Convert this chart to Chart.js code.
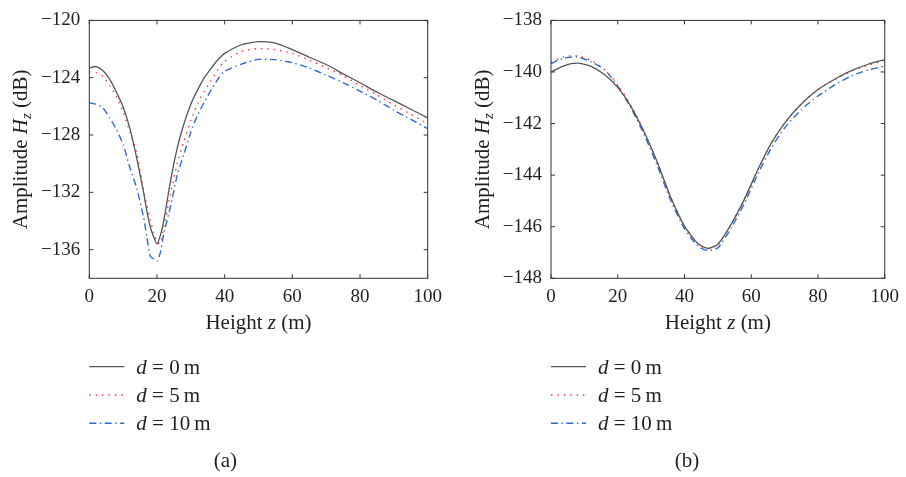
<!DOCTYPE html>
<html>
<head>
<meta charset="utf-8">
<script src="https://cdn.jsdelivr.net/npm/chart.js@4/dist/chart.umd.min.js"></script>
<style>
  html, body { margin: 0; padding: 0; background: #fff; }
  .panel { position: absolute; top: 0; width: 453px; height: 477px; }
</style>
</head>
<body>
<div class="panel" style="left:0"><canvas id="chartA" width="453" height="477"></canvas></div>
<div class="panel" style="left:453px"><canvas id="chartB" width="453" height="477"></canvas></div>
<script>
/* globals Chart */

// (a) heights and amplitudes
const heightA = [0, 2, 4, 6, 8, 10, 12, 14, 16, 17, 18, 19, 20, 21, 22, 24, 26, 28, 30, 32, 34, 36, 38, 40,
  45, 50, 55, 60, 65, 70, 75, 80, 85, 90, 95, 100];
const d0A = [-123.33, -123.22, -123.5, -124.1, -125.0, -126.05, -127.55, -129.6, -131.95, -133.3, -134.4, -135.1,
  -135.6, -135.0, -134.0, -131.2, -128.9, -127.2, -125.85, -124.85, -124.0, -123.35, -122.75, -122.3,
  -121.7, -121.48, -121.58, -122.04, -122.57, -123.08, -123.73, -124.35, -125.0, -125.6, -126.2, -126.8];
const d5A = [-123.6, -123.65, -123.9, -124.55, -125.3, -126.4, -127.8, -129.2, -131.8, -132.9, -133.9, -134.8,
  -135.5, -135.55, -134.45, -132.1, -130.0, -128.4, -127.0, -125.8, -124.95, -124.2, -123.45, -122.85,
  -122.15, -121.97, -122.04, -122.3, -122.78, -123.3, -123.85, -124.55, -125.2, -125.9, -126.55, -127.2];
const d10A = [-125.75, -125.85, -126.1, -126.8, -127.6, -128.66, -130.28, -131.7, -133.7, -135.1, -136.45, -136.65,
  -136.8, -136.2, -134.9, -133.0, -130.8, -129.3, -127.8, -126.6, -125.7, -124.85, -124.1, -123.55,
  -123.05, -122.72, -122.74, -122.95, -123.32, -123.82, -124.34, -124.93, -125.56, -126.27, -126.9, -127.55];

// (b) heights and amplitudes
const heightB = [0, 4, 8, 12, 16, 20, 24, 28, 32, 36, 40, 44, 47, 50, 54, 58, 62, 66, 70, 75, 80, 85, 90, 95, 100];
const d0B = [-140.0, -139.75, -139.66, -139.78, -140.1, -140.6, -141.35, -142.35, -143.55, -144.9, -145.98, -146.65,
  -146.84, -146.68, -145.9, -144.92, -143.78, -142.76, -141.98, -141.24, -140.68, -140.28, -139.95, -139.7, -139.52];
const d5B = [-139.62, -139.4, -139.38, -139.55, -139.9, -140.5, -141.3, -142.35, -143.55, -144.9, -145.98, -146.68,
  -146.86, -146.7, -145.9, -144.92, -143.78, -142.76, -141.98, -141.24, -140.68, -140.29, -139.97, -139.74, -139.56];
const d10B = [-139.67, -139.46, -139.42, -139.6, -139.9, -140.55, -141.4, -142.45, -143.68, -145.02, -146.08, -146.75,
  -146.92, -146.82, -146.05, -145.08, -143.95, -142.95, -142.17, -141.46, -140.93, -140.5, -140.15, -139.92, -139.77];

const xTicks = [0, 20, 40, 60, 80, 100];
const yTicksA = [-136, -132, -128, -124, -120];
const yTicksB = [-148, -146, -144, -142, -140, -138];
const distances = ["0", "5", "10"];

const FONT = '"Liberation Serif", "Times New Roman", serif';
const INK = "#231f20";
const TEXT_SIZE = 21;

const lineStyles = [
  { color: "#555555", dash: [], width: 1.3 },
  { color: "#ff3030", dash: [1.4, 5], width: 1.4 },
  { color: "#2e6ccc", dash: [7, 3.5, 1.4, 3.5], width: 1.4 },
];

// draw a row of text pieces (some italic / subscript) starting or centred at x
function drawRuns(ctx, runs, x, y, align) {
  const font = (r) => `${r.italic ? "italic " : ""}${r.size || TEXT_SIZE}px ${FONT}`;
  let total = 0;
  runs.forEach((r) => { ctx.font = font(r); total += ctx.measureText(r.t).width; });
  let cx = align === "center" ? x - total / 2 : x;
  ctx.textAlign = "left";
  ctx.textBaseline = "alphabetic";
  runs.forEach((r) => {
    ctx.font = font(r);
    ctx.fillText(r.t, cx, y + (r.dy || 0));
    cx += ctx.measureText(r.t).width;
  });
}

const framePlugin = {
  id: "frame",
  afterDraw(chart, args, opts) {
    const { ctx, chartArea: a, scales } = chart;
    ctx.save();
    ctx.strokeStyle = "#333";
    ctx.lineWidth = 1;
    ctx.strokeRect(a.left, a.top, a.right - a.left, a.bottom - a.top);
    ctx.beginPath();
    scales.x.ticks.forEach((t) => {
      const x = scales.x.getPixelForValue(t.value);
      ctx.moveTo(x, a.bottom); ctx.lineTo(x, a.bottom - 4);
      ctx.moveTo(x, a.top); ctx.lineTo(x, a.top + 4);
    });
    scales.y.ticks.forEach((t) => {
      const y = scales.y.getPixelForValue(t.value);
      ctx.moveTo(a.left, y); ctx.lineTo(a.left + 4, y);
      ctx.moveTo(a.right, y); ctx.lineTo(a.right - 4, y);
    });
    ctx.stroke();

    ctx.fillStyle = INK;
    // x title
    drawRuns(ctx, [{ t: "Height " }, { t: "z", italic: true }, { t: " (m)" }], (a.left + a.right) / 2, 329, "center");
    // y title
    ctx.save();
    ctx.translate(a.left - 62, (a.top + a.bottom) / 2);
    ctx.rotate(-Math.PI / 2);
    drawRuns(ctx, [
      { t: "Amplitude " }, { t: "H", italic: true }, { t: "z", italic: true, size: 15, dy: 4 }, { t: " (dB)" },
    ], 0, 0, "center");
    ctx.restore();

    // legend
    chart.data.datasets.forEach((ds, i) => {
      const y = 366.7 + i * 28.3;
      ctx.save();
      ctx.strokeStyle = ds.borderColor;
      ctx.lineWidth = ds.borderWidth;
      ctx.setLineDash(ds.borderDash);
      ctx.beginPath();
      ctx.moveTo(a.left, y); ctx.lineTo(a.left + 35, y);
      ctx.stroke();
      ctx.restore();
      drawRuns(ctx, [{ t: "d", italic: true }, { t: " = " + distances[i] + "\u2009m" }], a.left + 47, y + 7, "left");
    });

    // caption
    drawRuns(ctx, [{ t: opts.caption }], a.left + 136, 467, "center");
    ctx.restore();
  },
};

function makeChart(id, xs, series, yMin, yMax, yTicks, leftW, padRight, caption) {
  const tickFont = { family: FONT, size: 19 };
  return new Chart(document.getElementById(id), {
    type: "line",
    data: {
      datasets: series.map((ys, i) => ({
        label: "d = " + distances[i] + " m",
        data: xs.map((x, j) => ({ x, y: ys[j] })),
        borderColor: lineStyles[i].color,
        borderDash: lineStyles[i].dash,
        borderWidth: lineStyles[i].width,
        pointRadius: 0,
        tension: 0.2,
        fill: false,
      })),
    },
    options: {
      responsive: false,
      animation: false,
      layout: { padding: { left: 0, top: 19.3, right: padRight, bottom: 168.7 } },
      scales: {
        x: {
          type: "linear",
          min: 0,
          max: 100,
          afterBuildTicks: (s) => { s.ticks = xTicks.map((v) => ({ value: v })); },
          afterFit: (s) => { s.height = 30; },
          grid: { display: false, drawTicks: false },
          border: { display: false },
          ticks: { padding: 7, font: tickFont, color: INK, maxRotation: 0 },
        },
        y: {
          type: "linear",
          min: yMin,
          max: yMax,
          afterBuildTicks: (s) => { s.ticks = yTicks.map((v) => ({ value: v })); },
          afterFit: (s) => { s.width = leftW; },
          grid: { display: false, drawTicks: false },
          border: { display: false },
          ticks: {
            padding: 9,
            font: tickFont,
            color: INK,
            callback: (v) => String(v).replace("-", "\u2212"),
          },
        },
      },
      plugins: {
        legend: { display: false },
        tooltip: { enabled: false },
        frame: { caption },
      },
    },
    plugins: [framePlugin],
  });
}

makeChart("chartA", heightA, [d0A, d5A, d10A], -138, -120, yTicksA, 89.3, 25.3, "(a)");
makeChart("chartB", heightB, [d0B, d5B, d10B], -148, -138, yTicksB, 98, 17, "(b)");
</script>
</body>
</html>
